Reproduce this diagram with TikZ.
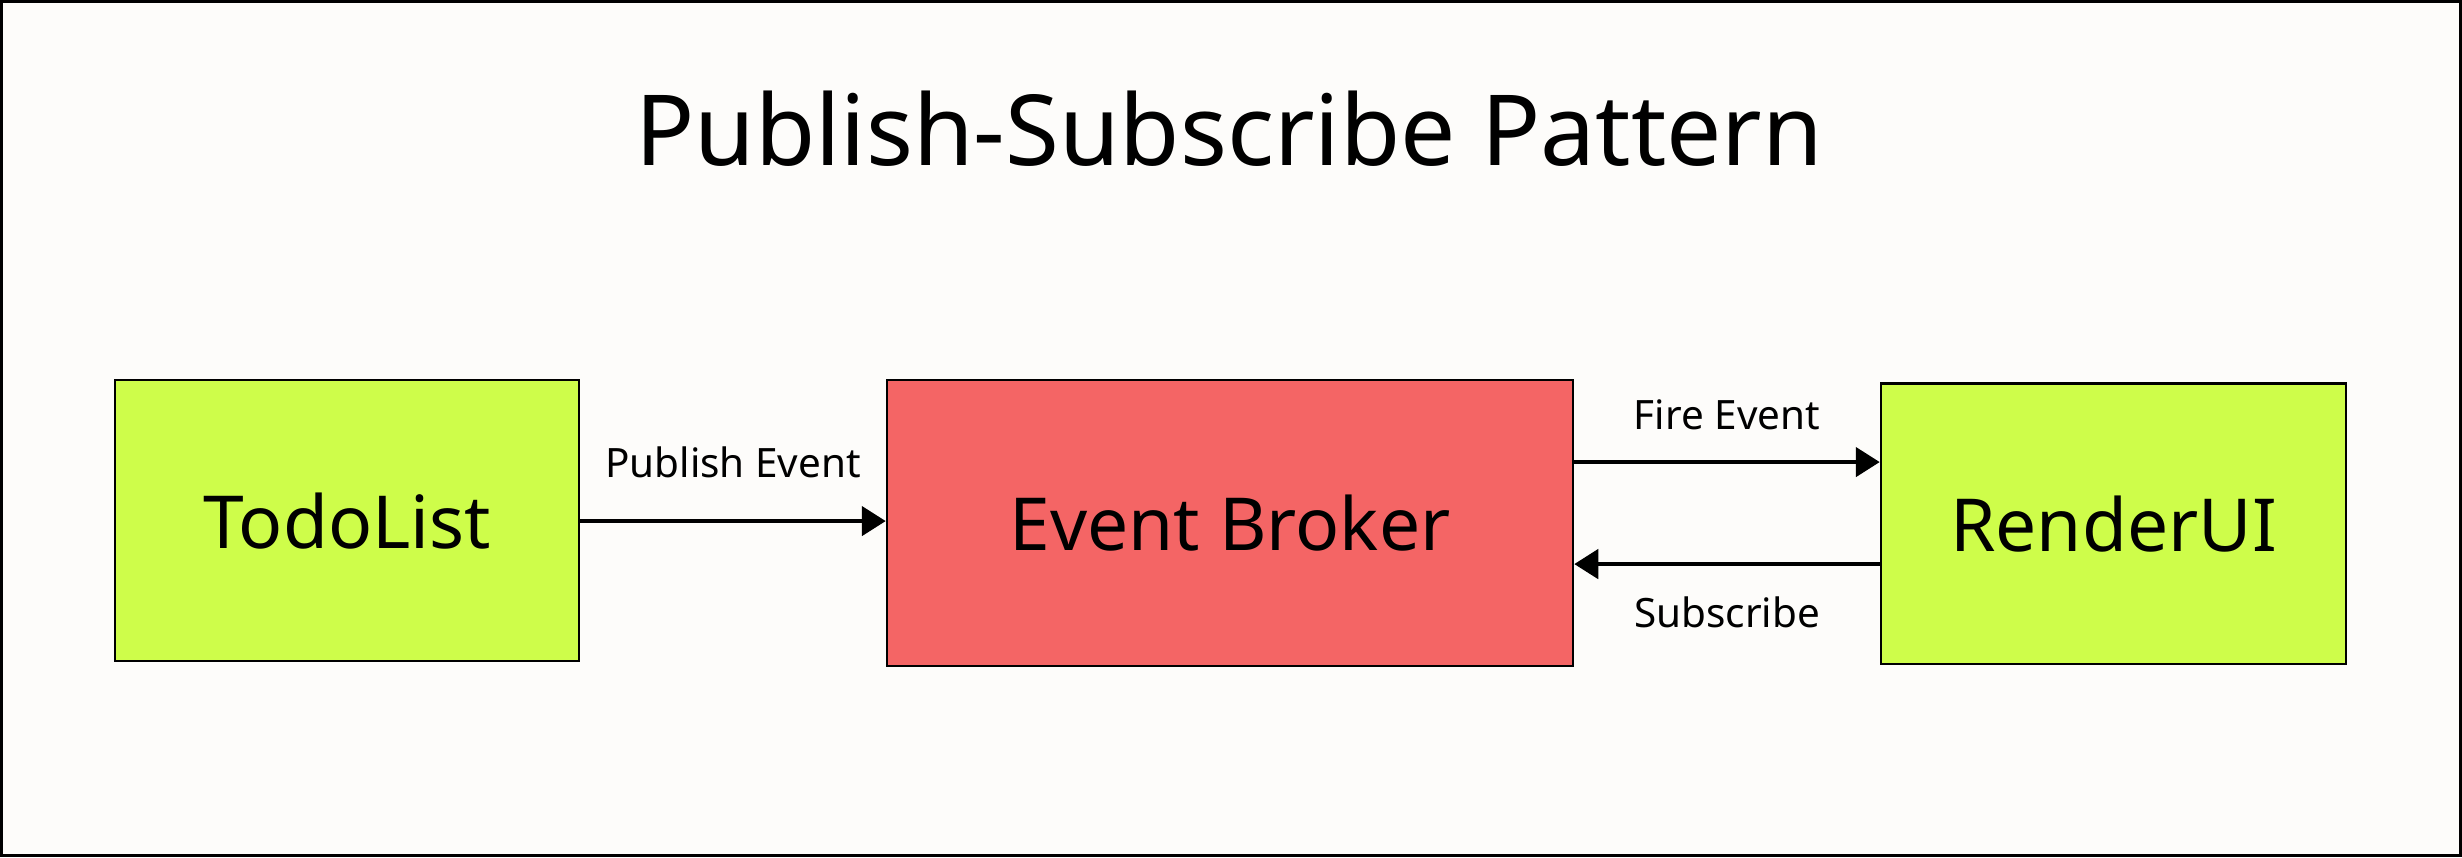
\documentclass[tikz,border=0pt]{standalone}
\usepackage{fontspec}
\setmainfont{Noto Sans}
\usepackage{tikz}
\usetikzlibrary{calc}
\usetikzlibrary{arrows.meta}
\usetikzlibrary{positioning}

\definecolor{paper}{HTML}{FDFCFA}
\definecolor{lime}{HTML}{CEFD4A}
\definecolor{salmon}{HTML}{F46565}

\begin{document}
\begin{tikzpicture}[x=0.01cm, y=-0.01cm,
    block/.style={draw=black, line width=0.6pt, inner sep=0pt, font=\fontsize{20.8}{24}\selectfont},
    flow/.style={line width=1.35pt, -{Triangle[length=0.24cm, width=0.29cm]}},
    tag/.style={anchor=base, font=\fontsize{11.5}{14}\selectfont}]

    \fill[paper] (0,0) rectangle (2462,857);
    \draw[line width=0.9pt] (1.5,1.5) rectangle (2460.5,855.5);

    \node[anchor=base, font=\fontsize{27.9}{32}\selectfont] (title) at (1229,165) {Publish-Subscribe Pattern};

    \node[block, fill=lime, minimum width=4.64cm, minimum height=2.81cm] (todo) at (347,520.5) {TodoList};
    \node[block, fill=salmon, minimum width=6.86cm, minimum height=2.86cm] (broker) at (1230,523) {Event Broker};
    \node[block, fill=lime, minimum width=4.65cm, minimum height=2.80cm] (render) at (2113.5,523.5) {RenderUI};

    \draw[flow] (todo.east |- 0,521) -- (broker.west |- 0,521);
    \draw[flow] (broker.east |- 0,462) -- (render.west |- 0,462);
    \draw[flow] (render.west |- 0,564) -- (broker.east |- 0,564);

    \node[tag] (publish) at (733,477) {Publish Event};
    \node[tag] (fire) at (1727,429) {Fire Event};
    \node[tag] (subscribe) at (1727,627) {Subscribe};

\end{tikzpicture}
\end{document}
